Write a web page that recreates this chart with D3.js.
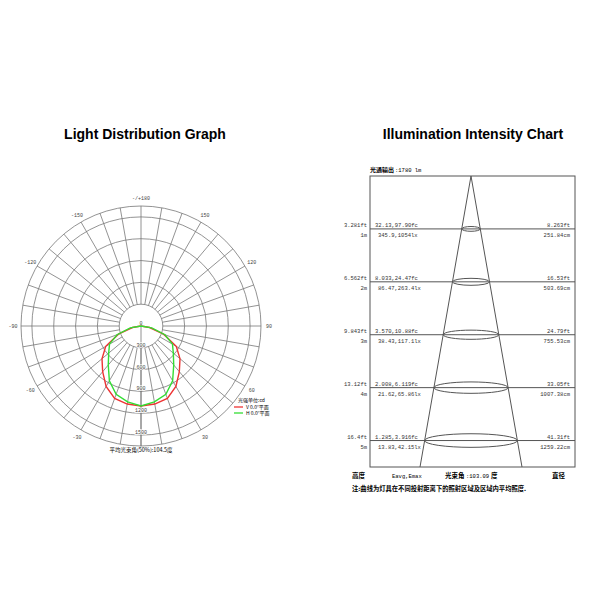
<!DOCTYPE html><html><head><meta charset="utf-8"><script src="https://cdn.jsdelivr.net/npm/d3@7"></script>
<style>body{margin:0;background:#fff}</style></head><body><svg id="c" width="600" height="600"></svg>
<script>
const angleLabels=[{a:180,t:"-/+180"},{a:150,t:"150"},{a:-150,t:"-150"},{a:120,t:"120"},{a:-120,t:"-120"},{a:90,t:"90"},{a:-90,t:"-90"},{a:60,t:"60"},{a:-60,t:"-60"},{a:30,t:"30"},{a:-30,t:"-30"}];
const ringValues=[300,600,900,1200,1500,1650];
const ringLabels=[0,300,600,900,1200,1500];
const anglesV=[-90,-80,-70,-60,-50,-40,-30,-20,-10,0,10,20,30,40,50,60,70,80,90];
const redV=[0,120,330,560,700,820,960,1060,1090,1100,1090,1060,960,820,700,560,330,120,0];
const greenC=[0,150,350,500,580,700,870,1000,1060,1100,1060,1000,870,700,580,500,350,150,0];
const heights=[1,2,3,4,5];
const ftLabels=["3.281ft","6.562ft","9.843ft","13.12ft","16.4ft"];
const mLabels=["1m","2m","3m","4m","5m"];
const fcLabels=["32.13,97.90fc","8.033,24.47fc","3.570,10.88fc","2.008,6.119fc","1.285,3.916fc"];
const lxLabels=["345.9,1054lx","86.47,263.4lx","38.43,117.1lx","21.62,65.86lx","13.83,42.15lx"];
const dftLabels=["8.263ft","16.53ft","24.79ft","33.05ft","41.31ft"];
const dcmLabels=["251.84cm","503.69cm","755.53cm","1007.38cm","1259.22cm"];

const svg=d3.select("#c");
const mono="'Liberation Mono',monospace",cjk="'Noto Sans CJK SC',sans-serif";
svg.append("text").attr("x",145).attr("y",139).attr("text-anchor","middle").attr("font-family","Liberation Sans,Arial").attr("font-weight","bold").attr("font-size",14).text("Light Distribution Graph");
svg.append("text").attr("x",473).attr("y",139).attr("text-anchor","middle").attr("font-family","Liberation Sans,Arial").attr("font-weight","bold").attr("font-size",14).text("Illumination Intensity Chart");

const cx=141,cy=326;
const r=d3.scaleLinear().domain([0,1650]).range([0,120]);
const g=svg.append("g").attr("transform",`translate(${cx},${cy})`);
const pt=(a,v)=>[r(v)*Math.sin(a*Math.PI/180), r(v)*Math.cos(a*Math.PI/180)];
ringValues.forEach(v=>g.append("circle").attr("r",r(v)).attr("fill","none").attr("stroke","#777").attr("stroke-width",0.8));
d3.range(0,360,10).forEach(a=>{const p0=pt(a,300),p1=pt(a,1650);g.append("line").attr("x1",p0[0]).attr("y1",p0[1]).attr("x2",p1[0]).attr("y2",p1[1]).attr("stroke","#777").attr("stroke-width",0.8);});
g.append("line").attr("x1",0).attr("y1",0).attr("x2",0).attr("y2",r(1650)).attr("stroke","#777").attr("stroke-width",0.8);
angleLabels.forEach(d=>{const p=pt(d.a,1650+110);g.append("text").attr("x",p[0]).attr("y",p[1]+2).attr("text-anchor","middle").attr("font-family",mono).attr("font-size",5).attr("fill","#444").text(d.t);});
ringLabels.forEach(v=>g.append("text").attr("x",0).attr("y",r(v)-1).attr("text-anchor","middle").attr("font-family",mono).attr("font-size",5).attr("fill","#444").attr("stroke","#fff").attr("stroke-width",1.5).attr("paint-order","stroke").text(v));
const line=d3.line();
g.append("path").attr("d",line(anglesV.map((a,i)=>pt(a,redV[i])))).attr("fill","none").attr("stroke","#e33").attr("stroke-width",1.4);
g.append("path").attr("d",line(anglesV.map((a,i)=>pt(a,greenC[i])))).attr("fill","none").attr("stroke","#3d3").attr("stroke-width",1.4);
const lg=svg.append("g").attr("transform","translate(238,402)");
lg.append("text").attr("x",0).attr("y",0).attr("font-family",cjk).attr("font-size",5).text("光强单位:cd");
[["#e33","V 0.0°平面"],["#3d3","H 0.0°平面"]].forEach((d,i)=>{lg.append("line").attr("x1",-4).attr("x2",5).attr("y1",5+i*6).attr("y2",5+i*6).attr("stroke",d[0]).attr("stroke-width",1.3);lg.append("text").attr("x",8).attr("y",7+i*6).attr("font-family",cjk).attr("font-size",5).text(d[1]);});
svg.append("text").attr("x",141).attr("y",452).attr("text-anchor","middle").attr("font-family",cjk).attr("font-size",5.5).text("平均光束角(50%):104.5度");

const x0=370,x1=575,apex=471;
const y=d3.scaleLinear().domain([0,5.5]).range([176,467]);
const hw=h=>(y(h)-y(0))*(51/(y(5.5)-y(0)));
svg.append("rect").attr("x",x0).attr("y",y(0)).attr("width",x1-x0).attr("height",y(5.5)-y(0)).attr("fill","none").attr("stroke","#555").attr("stroke-width",1);
svg.append("path").attr("d",`M${apex-hw(5.5)},${y(5.5)}L${apex},${y(0)}L${apex+hw(5.5)},${y(5.5)}`).attr("fill","none").attr("stroke","#555");
heights.forEach((h,i)=>{
 const yy=y(h);
 svg.append("line").attr("x1",x0).attr("x2",x1).attr("y1",yy).attr("y2",yy).attr("stroke","#555");
 svg.append("ellipse").attr("cx",apex).attr("cy",yy).attr("rx",hw(h)).attr("ry",1.3+h*1.1).attr("fill","none").attr("stroke","#555");
 const t=(x,yv,s,anc)=>svg.append("text").attr("x",x).attr("y",yv).attr("text-anchor",anc).attr("font-family",mono).attr("font-size",5.5).attr("fill","#333").text(s);
 t(367,yy-2,ftLabels[i],"end");t(367,yy+8,mLabels[i],"end");
 t(375,yy-2,fcLabels[i],"start");t(378,yy+8,lxLabels[i],"start");
 t(570,yy-2,dftLabels[i],"end");t(570,yy+8,dcmLabels[i],"end");
});
svg.append("text").attr("x",370).attr("y",172).attr("font-family",cjk).attr("font-size",6).attr("font-weight","bold").text("光通输出");
svg.append("text").attr("x",395).attr("y",172).attr("font-family",mono).attr("font-size",5.5).text(":1780 lm");
svg.append("text").attr("x",352).attr("y",478).attr("font-family",cjk).attr("font-size",6.5).attr("font-weight","bold").text("高度");
svg.append("text").attr("x",392).attr("y",478).attr("font-family",mono).attr("font-size",5.5).text("Eavg,Emax");
svg.append("text").attr("x",445).attr("y",478).attr("font-family",cjk).attr("font-size",6.5).attr("font-weight","bold").text("光束角");
svg.append("text").attr("x",466).attr("y",478).attr("font-family",mono).attr("font-size",5.5).text(":103.09");
svg.append("text").attr("x",491).attr("y",478).attr("font-family",cjk).attr("font-size",6.5).attr("font-weight","bold").text("度");
svg.append("text").attr("x",552).attr("y",478).attr("font-family",cjk).attr("font-size",6.5).attr("font-weight","bold").text("直径");
svg.append("text").attr("x",352).attr("y",491).attr("font-family",cjk).attr("font-size",6.3).attr("font-weight","bold").text("注:曲线为灯具在不同投射距离下的照射区域及区域内平均照度.");
</script></body></html>
